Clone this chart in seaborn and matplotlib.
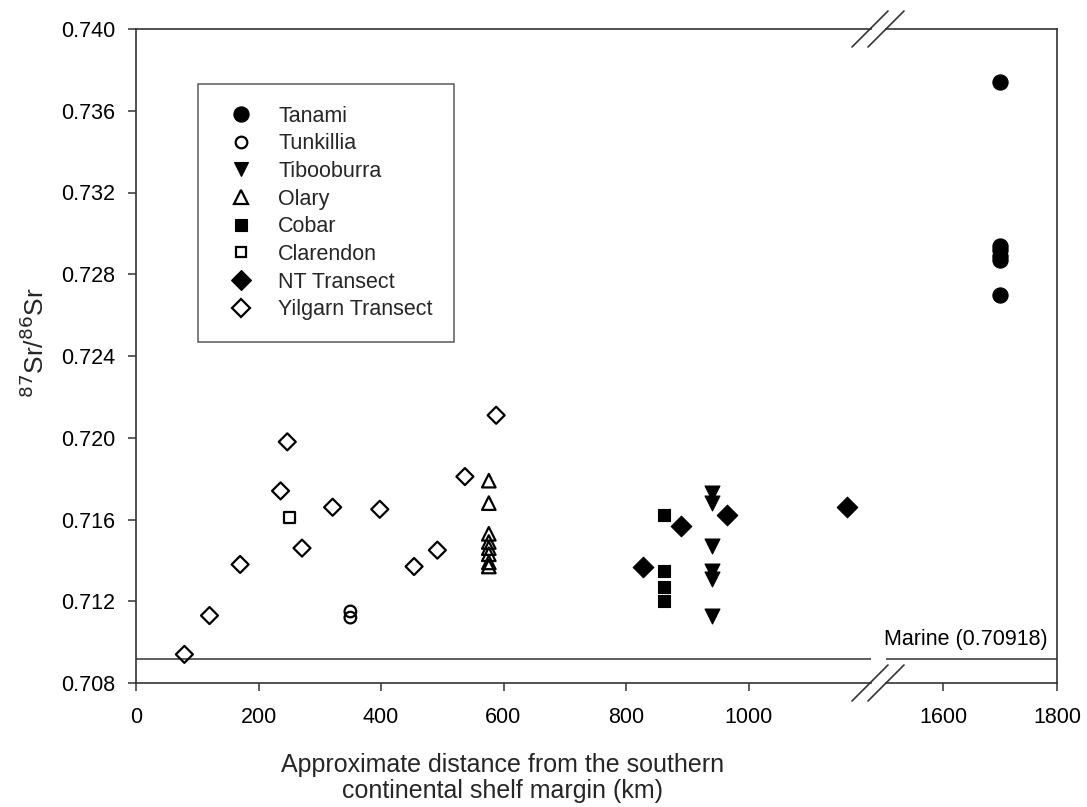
import matplotlib
matplotlib.use("Agg")
import matplotlib.pyplot as plt
from matplotlib.lines import Line2D
import seaborn as sns
import pandas as pd

sns.set_theme(style="white")
plt.rcParams['font.family'] = ['Liberation Sans', 'DejaVu Sans']

# ---- data ----
tanami_x = [1700, 1700, 1700, 1700, 1700, 1700]
tanami_y = [0.7374, 0.7294, 0.7292, 0.7289, 0.7287, 0.7270]
tunkillia_x = [350, 350]
tunkillia_y = [0.7115, 0.7112]
tibooburra_x = [940, 940, 940, 940, 940, 940]
tibooburra_y = [0.7173, 0.7168, 0.7147, 0.7135, 0.7131, 0.7113]
olary_x = [576, 576, 576, 576, 576, 576, 576, 576]
olary_y = [0.7179, 0.7168, 0.7153, 0.7149, 0.7146, 0.7143, 0.7139, 0.7137]
cobar_x = [862, 862, 862, 862]
cobar_y = [0.7162, 0.7135, 0.7127, 0.7120]
clarendon_x = [250]
clarendon_y = [0.7161]
nt_x = [828, 890, 965, 1160]
nt_y = [0.7137, 0.7157, 0.7162, 0.7166]
yilgarn_x = [79, 120, 170, 236, 247, 271, 321, 398, 454, 492, 537, 588]
yilgarn_y = [0.7094, 0.7113, 0.7138, 0.7174, 0.7198, 0.7146, 0.7166, 0.7165,
             0.7137, 0.7145, 0.7181, 0.7211]
marine = 0.70918

groups = [
    ("Tanami", tanami_x, tanami_y, "o", True),
    ("Tunkillia", tunkillia_x, tunkillia_y, "o", False),
    ("Tibooburra", tibooburra_x, tibooburra_y, "v", True),
    ("Olary", olary_x, olary_y, "^", False),
    ("Cobar", cobar_x, cobar_y, "s", True),
    ("Clarendon", clarendon_x, clarendon_y, "s", False),
    ("NT Transect", nt_x, nt_y, "D", True),
    ("Yilgarn Transect", yilgarn_x, yilgarn_y, "D", False),
]
y_ticks = [0.708, 0.712, 0.716, 0.720, 0.724, 0.728, 0.732, 0.736, 0.740]
x_ticks_left = [0, 200, 400, 600, 800, 1000]
x_ticks_right = [1600, 1800]

W, H = 1087, 807
fig = plt.figure(figsize=(W / 100, H / 100), dpi=100)

def px_axes(x0, x1, y0, y1):
    return [x0 / W, 1 - y1 / H, (x1 - x0) / W, (y1 - y0) / H]

axL = fig.add_axes(px_axes(136, 871, 29, 683))
axR = fig.add_axes(px_axes(886, 1057, 29, 683), sharey=axL)

spine_col = "#333333"
FS = 15.5
# marker areas (pt^2): filled / open
sizes_filled = {"o": 120, "v": 115, "s": 80, "D": 110}
sizes_open = {"o": 70, "^": 95, "s": 62, "D": 75}
for ax in (axL, axR):
    for name, xs, ys, m, filled in groups:
        df = pd.DataFrame({"x": xs, "y": ys})
        if filled:
            sns.scatterplot(data=df, x="x", y="y", marker=m, s=sizes_filled[m],
                            color="black", edgecolor="black", linewidth=0.8,
                            ax=ax, legend=False, zorder=3)
        else:
            sns.scatterplot(data=df, x="x", y="y", marker=m, s=sizes_open[m],
                            facecolor="none", edgecolor="black", linewidth=1.6,
                            ax=ax, legend=False, zorder=3)
    ax.axhline(marine, color=spine_col, lw=1.1, zorder=2)
    for s in ax.spines.values():
        s.set_color(spine_col)
        s.set_linewidth(1.2)
    ax.tick_params(axis="both", direction="out", width=1.1,
                   color=spine_col, labelsize=FS, labelcolor="black")
    ax.tick_params(axis="x", length=6, pad=11)
    ax.tick_params(axis="y", length=6, pad=9)
    ax.set_xlabel("")
    ax.set_ylabel("")

axL.set_xlim(0, 1200)
axR.set_xlim(1500, 1800)
axL.set_ylim(0.708, 0.740)
axL.set_yticks(y_ticks)
axL.set_yticklabels([f"{v:.3f}" for v in y_ticks])
axL.set_xticks(x_ticks_left)
axL.set_xticklabels([str(v) for v in x_ticks_left])
axR.set_xticks(x_ticks_right)
axR.set_xticklabels([str(v) for v in x_ticks_right])
axL.spines["right"].set_visible(False)
axR.spines["left"].set_visible(False)
axL.tick_params(axis="both", left=True, bottom=True, right=False, top=False)
axR.tick_params(axis="y", left=False, right=False, labelleft=False)
axR.tick_params(axis="x", bottom=True)

axR.text(1783, marine + 0.00045, "Marine (0.70918)", ha="right", va="bottom",
         fontsize=FS, color="black")

axL.set_ylabel("$^{87}$Sr/$^{86}$Sr", fontsize=19, labelpad=12)
axL.yaxis.set_label_coords(-0.118, 0.52)
fig.text(503 / W, 1 - 778 / H,
         "Approximate distance from the southern\ncontinental shelf margin (km)",
         ha="center", va="center", fontsize=18, linespacing=1.12)

# break marks
for yb in (29, 683):
    for xc in (870, 886):
        d = 18
        fig.add_artist(Line2D([(xc - d) / W, (xc + d) / W],
                              [1 - (yb + d) / H, 1 - (yb - d) / H],
                              color=spine_col, lw=1.2, transform=fig.transFigure))

# legend
handles = []
for name, xs, ys, m, filled in groups:
    handles.append(Line2D([], [], linestyle="none", marker=m,
                          markersize=(sizes_filled[m] if filled else sizes_open[m]) ** 0.5,
                          markerfacecolor="black" if filled else "none",
                          markeredgecolor="black",
                          markeredgewidth=0.8 if filled else 1.6, label=name))
leg = axL.legend(handles=handles, loc="upper left",
                 bbox_to_anchor=((198 - 136) / 735, (683 - 84) / 654),
                 fontsize=FS, frameon=True, fancybox=False, borderpad=1.0,
                 handlelength=2.0, handletextpad=0.72, labelspacing=0.31,
                 borderaxespad=0)
leg.get_frame().set_edgecolor(spine_col)
leg.get_frame().set_linewidth(1.1)

fig.savefig("out.png", dpi=100, facecolor="white")
